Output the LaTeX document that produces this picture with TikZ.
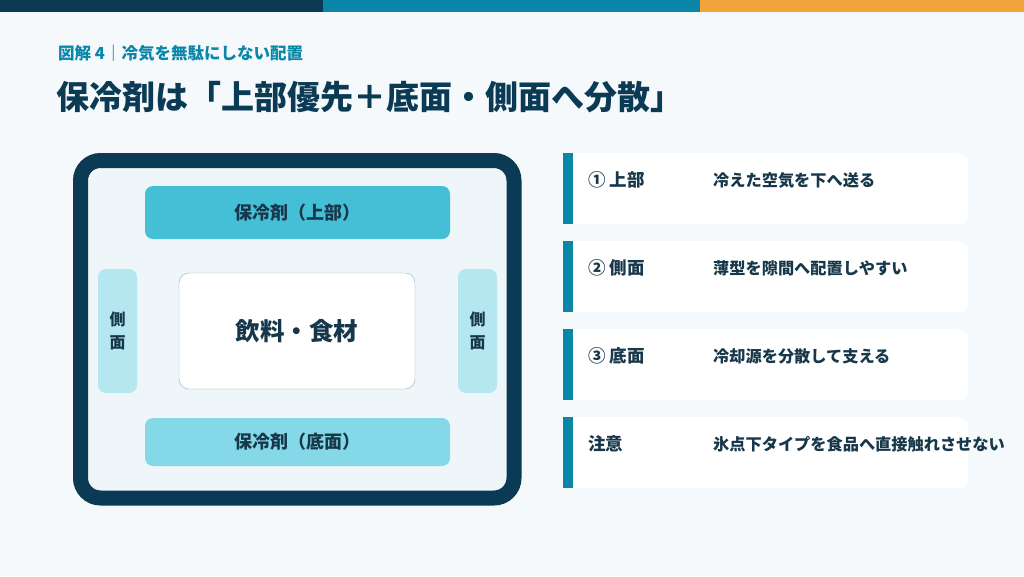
\documentclass[tikz,border=0pt]{standalone}
\usepackage{fontspec}
\setmainfont{Noto Sans CJK JP}
\usetikzlibrary{positioning}
\definecolor{navy}{HTML}{0B3A55}
\definecolor{tealbar}{HTML}{0A86A8}
\definecolor{orangebar}{HTML}{F2A43A}
\definecolor{pagebg}{HTML}{F6F9FB}
\definecolor{boxfill}{HTML}{EEF6F9}
\definecolor{packtop}{HTML}{44BFD6}
\definecolor{packbottom}{HTML}{84D8E8}
\definecolor{packside}{HTML}{B4E7F0}
\definecolor{itemline}{HTML}{8EAFC0}
\definecolor{ink}{HTML}{17374A}

\begin{document}
\begin{tikzpicture}[
  x=1pt, y=-1pt,
  pack/.style={rounded corners=8pt, inner sep=0pt, text=ink,
               font=\fontsize{18}{20}\selectfont\bfseries},
  card/.style={fill=white, rounded corners=10pt, minimum width=405pt,
               minimum height=71pt, anchor=north west, inner sep=0pt},
  cardbar/.style={fill=tealbar},
  cardhead/.style={anchor=west, inner sep=0pt, text=ink,
                   font=\fontsize{17.5}{20}\selectfont\bfseries},
  carddesc/.style={anchor=west, inner sep=0pt, text=ink,
                   font=\fontsize{16.2}{20}\selectfont\bfseries}
]
  % Background and top bars
  \useasboundingbox[fill=pagebg] (0,0) rectangle (1024,576);
  \fill[navy] (0,0) rectangle (323,12);
  \fill[tealbar] (323,0) rectangle (700,12);
  \fill[orangebar] (700,0) rectangle (1024,12);

  % Headings
  \node[anchor=west, inner sep=0pt, text=tealbar,
        font=\fontsize{16.5}{20}\selectfont\bfseries] (kicker) at (58,53)
        {図解 4｜冷気を無駄にしない配置};
  \node[anchor=west, inner sep=0pt, text=navy,
        font=\fontsize{33}{38}\selectfont\bfseries] (title) at (56,97)
        {保冷剤は「上部優先＋底面・側面へ分散」};

  % Cooler box
  \draw[navy, line width=15pt, fill=boxfill, rounded corners=20pt]
    (80.5,160.5) rectangle (514,498);
  \node[pack, fill=packtop, minimum width=305pt, minimum height=53pt]
    (top) at (297.5,212.5) {保冷剤（上部）};
  \node[pack, fill=packbottom, minimum width=305pt, minimum height=48pt]
    (bottom) at (297.5,442) {保冷剤（底面）};
  \node[pack, fill=packside, minimum width=39pt, minimum height=124pt,
        align=center, font=\fontsize{16}{23}\selectfont\bfseries]
    (left) at (117.5,331) {側\\面};
  \node[pack, fill=packside, minimum width=39pt, minimum height=124pt,
        align=center, font=\fontsize{16}{23}\selectfont\bfseries]
    (right) at (477.5,331) {側\\面};
  \node[draw=itemline, fill=white, rounded corners=10pt, minimum width=236pt,
        minimum height=116pt, text=ink, font=\fontsize{24.5}{28}\selectfont\bfseries]
    (items) at (297,331) {飲料・食材};

  % Cards
  \foreach \i/\head/\desc in {0/① 上部/冷えた空気を下へ送る,
                              1/② 側面/薄型を隙間へ配置しやすい,
                              2/③ 底面/冷却源を分散して支える,
                              3/注意/氷点下タイプを食品へ直接触れさせない}{
    \node[card] (card\i) at (563,153+88*\i) {};
    \fill[cardbar] (card\i.north west) rectangle ([xshift=10pt]card\i.south west);
    \node[cardhead] (head\i) at ([xshift=25pt, yshift=-27pt]card\i.north west) {\head};
    \node[carddesc] (desc\i) at ([xshift=150pt, yshift=-27pt]card\i.north west) {\desc};
  }
\end{tikzpicture}
\end{document}
